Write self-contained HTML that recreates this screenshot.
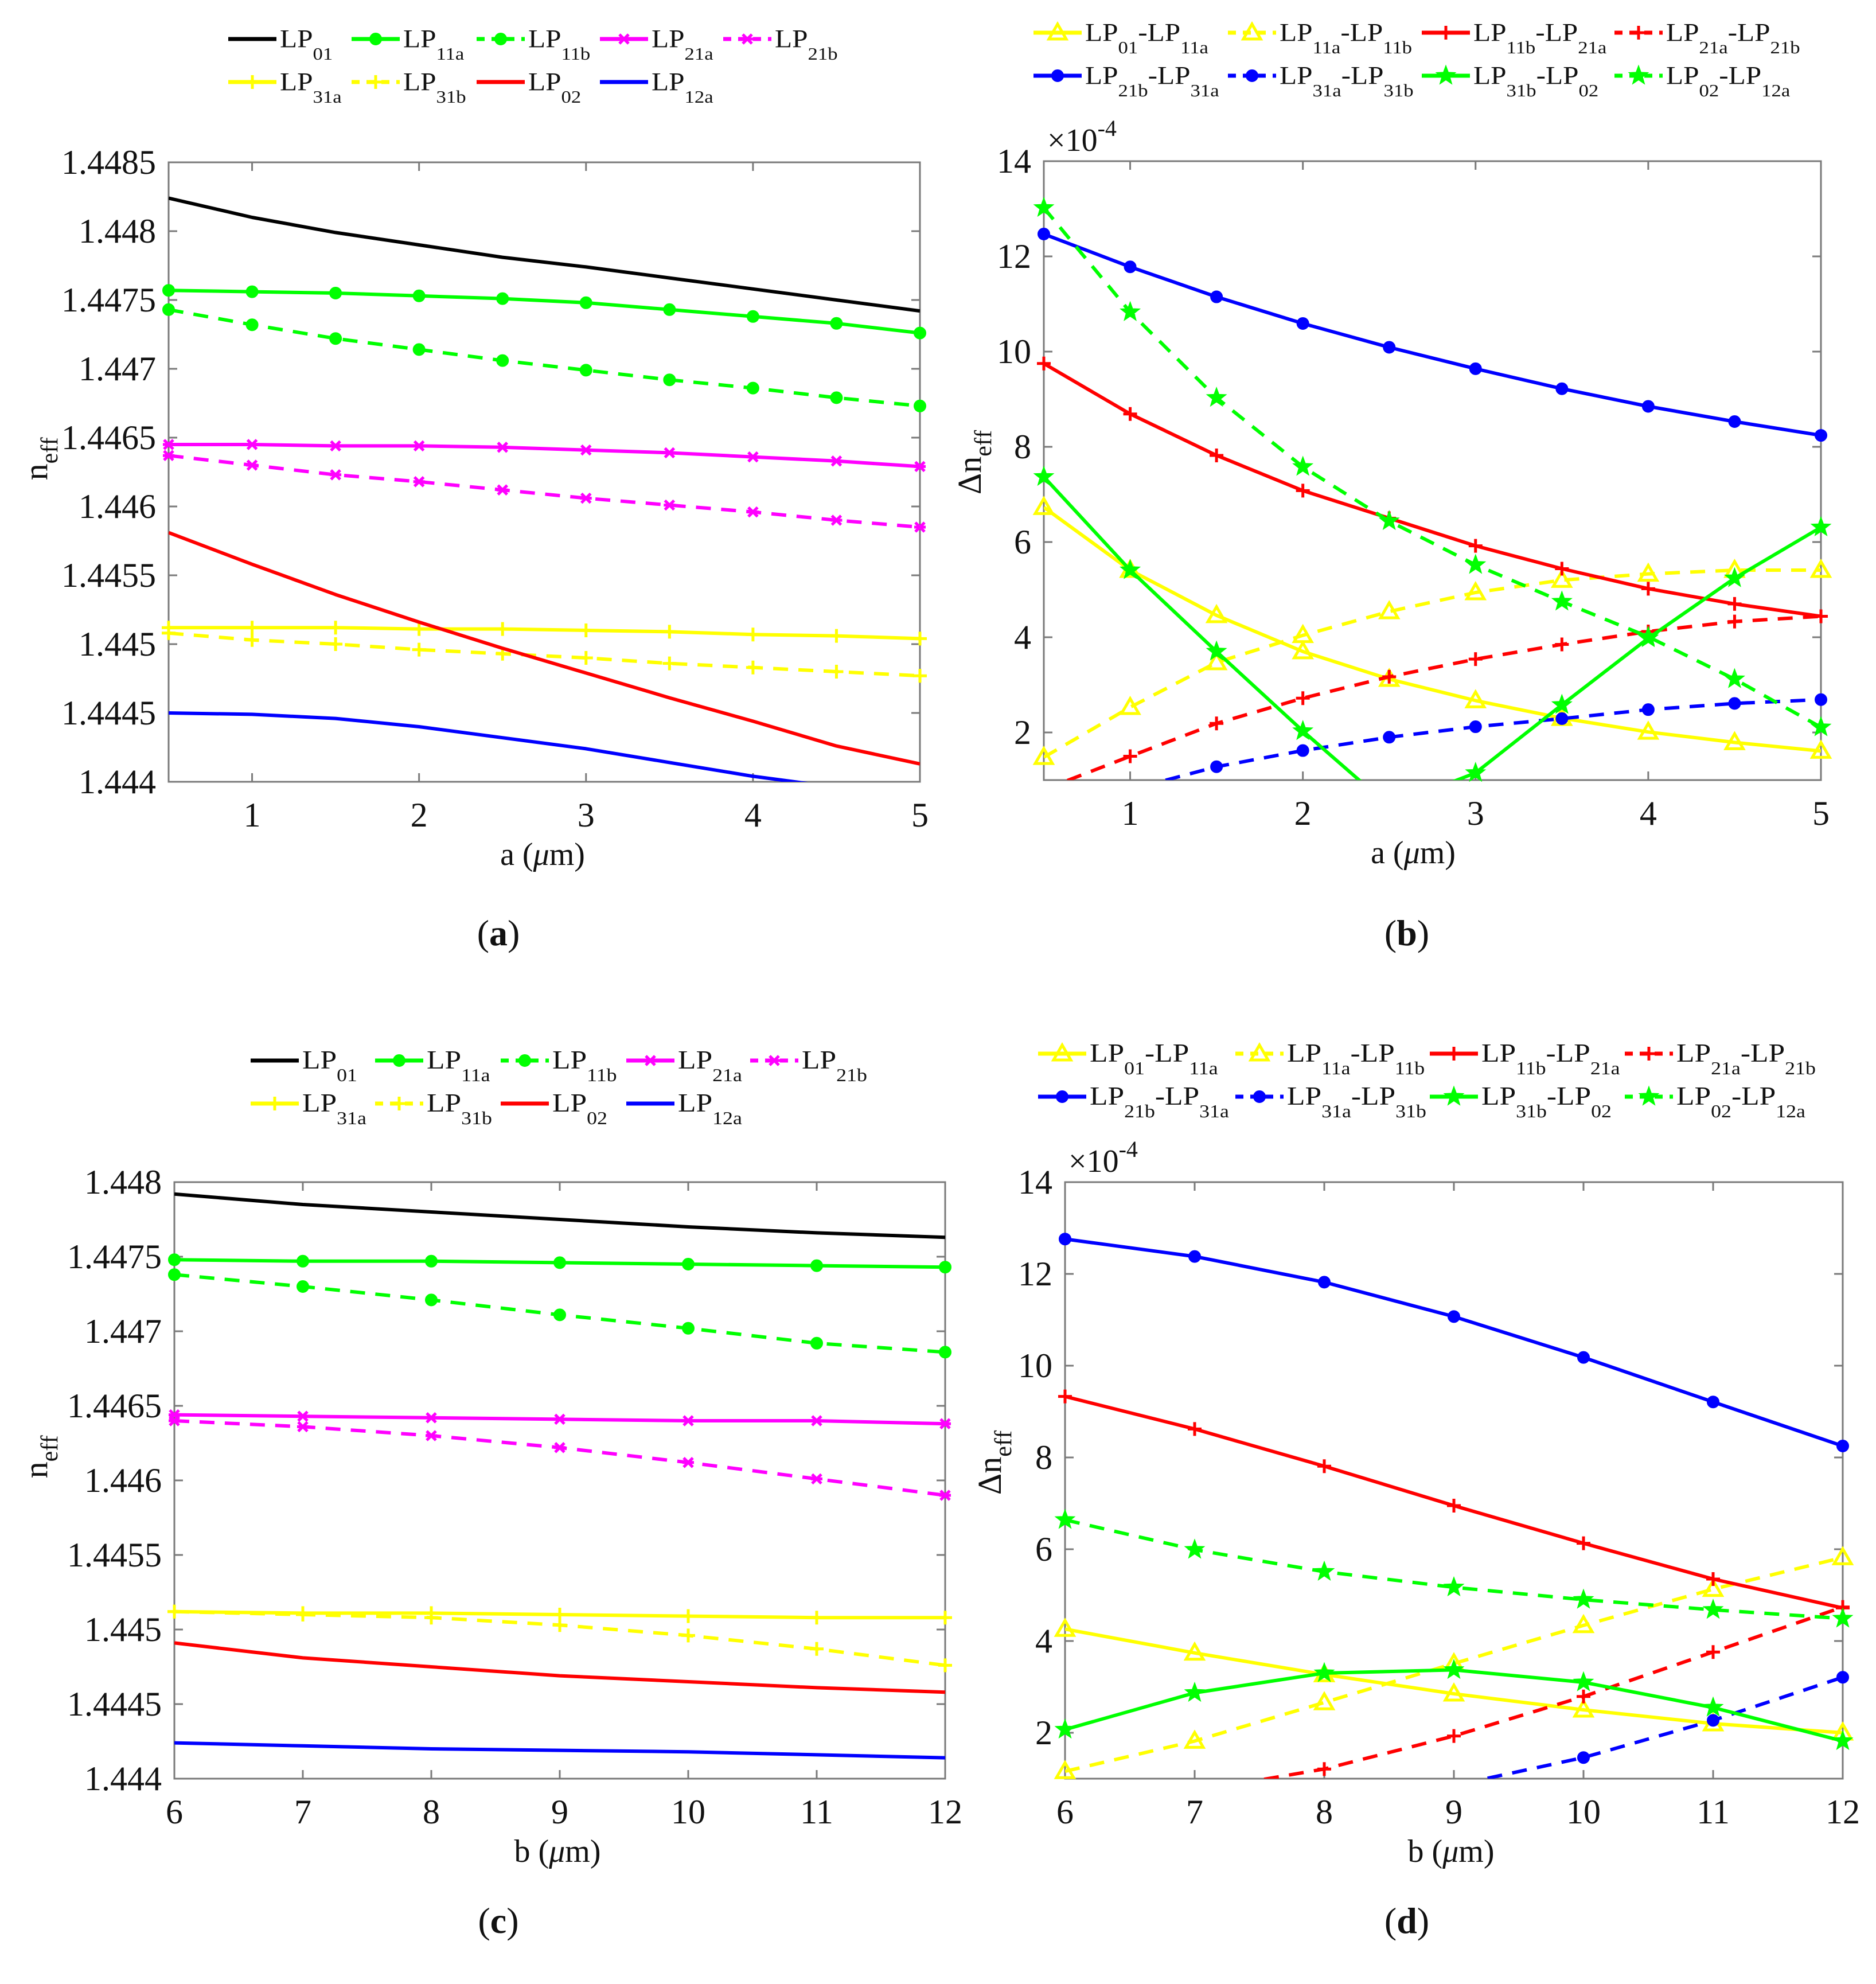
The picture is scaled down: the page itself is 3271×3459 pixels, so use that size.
<!DOCTYPE html>
<html>
<head>
<meta charset="utf-8">
<style>
html,body{margin:0;padding:0;background:#fff;}
svg, svg text{font-family:"Liberation Serif","Times New Roman",serif;}
</style>
</head>
<body>
<svg id="fig" width="3271" height="3454" viewBox="0 0 3271 3454" xmlns="http://www.w3.org/2000/svg" font-family="Liberation Serif, serif">
<rect x="0" y="0" width="3271" height="3454" fill="#fff"/>
</svg>
<script>
// ---------- DATA ----------
const xA = [0.5,1,1.5,2,2.5,3,3.5,4,4.5,5];
const xB = [6,7,8,9,10,11,12];
const xTicksA = [1,2,3,4,5];
const xTicksB = [6,7,8,9,10,11,12];
const nTicks = [1.444,1.4445,1.445,1.4455,1.446,1.4465,1.447,1.4475,1.448,1.4485];
const nTickLabels = ["1.444","1.4445","1.445","1.4455","1.446","1.4465","1.447","1.4475","1.448","1.4485"];
const nTicksC = [1.444,1.4445,1.445,1.4455,1.446,1.4465,1.447,1.4475,1.448];
const nTickLabelsC = ["1.444","1.4445","1.445","1.4455","1.446","1.4465","1.447","1.4475","1.448"];
const dTicks = [2,4,6,8,10,12,14];
const dTickLabels = ["2","4","6","8","10","12","14"];

// panel (a): n_eff vs a
const a_LP01  = [1.44824,1.44810,1.44799,1.44790,1.44781,1.44774,1.44766,1.44758,1.44750,1.44742];
const a_LP11a = [1.44757,1.44756,1.44755,1.44753,1.44751,1.44748,1.44743,1.44738,1.44733,1.44726];
const a_LP11b = [1.44743,1.44732,1.44722,1.44714,1.44706,1.44699,1.44692,1.44686,1.44679,1.44673];
const a_LP21a = [1.44645,1.44645,1.44644,1.44644,1.44643,1.44641,1.44639,1.44636,1.44633,1.44629];
const a_LP21b = [1.44637,1.44630,1.44623,1.44618,1.44612,1.44606,1.44601,1.44596,1.44590,1.44585];
const a_LP31a = [1.44512,1.44512,1.44512,1.44511,1.44511,1.44510,1.44509,1.44507,1.44506,1.44504];
const a_LP31b = [1.44508,1.44503,1.44500,1.44496,1.44493,1.44490,1.44486,1.44483,1.44480,1.44477];
const a_LP02  = [1.44581,1.44558,1.44536,1.44516,1.44497,1.44479,1.44461,1.44444,1.44426,1.44413];
const a_LP12a = [1.44450,1.44449,1.44446,1.44440,1.44432,1.44424,1.44414,1.44404,1.44396,1.44385];

// panel (b): delta n_eff (x1e-4) vs a
const b_01_11a  = [6.73,5.41,4.46,3.70,3.12,2.67,2.30,2.01,1.79,1.61];
const b_11a_11b = [1.48,2.53,3.47,4.04,4.54,4.94,5.20,5.33,5.41,5.41];
const b_11b_21a = [9.75,8.69,7.82,7.08,6.50,5.92,5.44,5.02,4.70,4.44];
const b_21a_21b = [0.80,1.50,2.19,2.72,3.17,3.54,3.85,4.12,4.33,4.44];
const b_21b_31a = [12.47,11.78,11.15,10.59,10.09,9.64,9.22,8.85,8.53,8.24];
const b_31a_31b = [0.30,0.80,1.28,1.62,1.90,2.12,2.29,2.48,2.61,2.69];
const b_31b_02  = [7.37,5.41,3.70,2.03,0.45,1.15,2.58,3.98,5.24,6.31];
const b_02_12a  = [13.02,10.83,9.03,7.58,6.44,5.52,4.75,4.01,3.12,2.11];

// panel (c): n_eff vs b
const c_LP01  = [1.44792,1.44785,1.44780,1.44775,1.44770,1.44766,1.44763];
const c_LP11a = [1.44748,1.44747,1.44747,1.44746,1.44745,1.44744,1.44743];
const c_LP11b = [1.44738,1.44730,1.44721,1.44711,1.44702,1.44692,1.44686];
const c_LP21a = [1.44644,1.44643,1.44642,1.44641,1.44640,1.44640,1.44638];
const c_LP21b = [1.44640,1.44636,1.44630,1.44622,1.44612,1.44601,1.44590];
const c_LP31a = [1.44512,1.44511,1.44511,1.44510,1.44509,1.44508,1.44508];
const c_LP31b = [1.44512,1.44510,1.44508,1.44503,1.44496,1.44487,1.44476];
const c_LP02  = [1.44491,1.44481,1.44475,1.44469,1.44465,1.44461,1.44458];
const c_LP12a = [1.44424,1.44422,1.44420,1.44419,1.44418,1.44416,1.44414];

// panel (d): delta n_eff (x1e-4) vs b
const d_01_11a  = [4.26,3.74,3.27,2.85,2.50,2.20,2.00];
const d_11a_11b = [1.16,1.82,2.66,3.51,4.34,5.13,5.82];
const d_11b_21a = [9.33,8.62,7.81,6.95,6.13,5.35,4.72];
const d_21a_21b = [0.25,0.73,1.21,1.93,2.79,3.76,4.74];
const d_21b_31a = [12.76,12.38,11.82,11.07,10.18,9.21,8.25];
const d_31a_31b = [-0.60,-0.20,0.30,0.85,1.46,2.27,3.21];
const d_31b_02  = [2.07,2.87,3.30,3.37,3.10,2.55,1.82];
const d_02_12a  = [6.64,5.99,5.51,5.17,4.90,4.68,4.49];

// ---------- DRAWING ----------
const NS = "http://www.w3.org/2000/svg";
const FONT = "Liberation Serif, Times New Roman, serif";
const svg = document.getElementById('fig');
function mk(tag, attrs, parent){
  const e = document.createElementNS(NS, tag);
  for (const k in attrs) e.setAttribute(k, attrs[k]);
  if (tag==='text') e.setAttribute('font-family', FONT);
  (parent||svg).appendChild(e);
  return e;
}
const YEL="#ffff00", GRN="#00ff00", MAG="#ff00ff", RED="#ff0000", BLU="#0000ff", BLK="#000000";
const DASH="26,18";

function marker(g, type, x, y, color){
  let m;
  if (type==='circle'){
    m = mk('circle',{cx:x,cy:y,r:10,fill:color,stroke:color,'stroke-width':2},g);
  } else if (type==='plus'){
    m = mk('path',{d:`M${x-12},${y}H${x+12}M${x},${y-12}V${y+12}`,stroke:color,'stroke-width':5,fill:'none'},g);
  } else if (type==='x'){
    m = mk('path',{d:`M${x-8},${y-8}L${x+8},${y+8}M${x-8},${y+8}L${x+8},${y-8}M${x-10},${y}H${x+10}`,stroke:color,'stroke-width':5,fill:'none'},g);
  } else if (type==='tri'){
    m = mk('path',{d:`M${x},${y-15}L${x+15},${y+11}L${x-15},${y+11}Z`,stroke:color,'stroke-width':5,fill:'none'},g);
  } else if (type==='star'){
    let p=''; const R=18, r=7.5;
    for (let i=0;i<10;i++){
      const ang=-Math.PI/2+i*Math.PI/5; const rr=(i%2===0)?R:r;
      p += (i?'L':'M')+(x+rr*Math.cos(ang)).toFixed(1)+','+(y+rr*Math.sin(ang)).toFixed(1);
    }
    m = mk('path',{d:p+'Z',fill:color,stroke:color,'stroke-width':1},g);
  }
  return m;
}

function legendText(g, x, y, parts, fs, sub){
  const t = mk('text',{transform:`translate(${x},${y}) scale(1.12,1)`,'font-size':fs,fill:'#111'},g);
  parts.forEach((p,i)=>{
    const a = mk('tspan',{dy: i===0?0:-sub},t); a.textContent = (i===0?'':'-')+p[0];
    const b = mk('tspan',{dy: sub,'font-size':Math.round(fs*0.7)},t); b.textContent = p[1];
  });
  return t;
}

function drawPanel(cfg){
  const g = mk('g',{});
  
  
  const X = v => cfg.L + (v-cfg.xmin)/(cfg.xmax-cfg.xmin)*(cfg.R-cfg.L);
  const Y = v => cfg.B - (v-cfg.ymin)/(cfg.ymax-cfg.ymin)*(cfg.B-cfg.T);
  const cid = 'clip-'+cfg.name;
  const defs = mk('defs',{},g);
  const cp = mk('clipPath',{id:cid},defs);
  mk('rect',{x:cfg.L,y:cfg.T,width:cfg.R-cfg.L,height:cfg.B-cfg.T},cp);
  const box = mk('rect',{x:cfg.L,y:cfg.T,width:cfg.R-cfg.L,height:cfg.B-cfg.T,fill:'none',stroke:'#7a7a7a','stroke-width':3},g);
  
  
  cfg.xticks.forEach(v=>{
    const px = X(v);
    mk('path',{d:`M${px},${cfg.B}V${cfg.B-15}M${px},${cfg.T}V${cfg.T+15}`,stroke:'#7a7a7a','stroke-width':3},g);
    const t = mk('text',{x:px,y:cfg.B+78,'font-size':60,'text-anchor':'middle',fill:'#111'},g);
    t.textContent = String(v);
    
    
  });
  cfg.yticks.forEach((v,i)=>{
    const py = Y(v);
    mk('path',{d:`M${cfg.L},${py}H${cfg.L+15}M${cfg.R},${py}H${cfg.R-15}`,stroke:'#7a7a7a','stroke-width':3},g);
    const t = mk('text',{x:cfg.L-22,y:py+20,'font-size':60,'text-anchor':'end',fill:'#111'},g);
    t.textContent = cfg.ylabels[i];
    
    
  });
  cfg.series.forEach(s=>{
    const sg = mk('g',{},g);
    
    
    const pts = cfg.x.map((xv,i)=>[X(xv),Y(s.data[i])]);
    const attrs = {d:'M'+pts.map(p=>p[0].toFixed(1)+','+p[1].toFixed(1)).join('L'),fill:'none',stroke:s.color,'stroke-width':6,'stroke-linejoin':'round','clip-path':`url(#${cid})`};
    if (s.dash) attrs['stroke-dasharray']=DASH;
    const line = mk('path',attrs,sg);
    
    
    if (s.marker){
      cfg.x.forEach((xv,i)=>{
        const v = s.data[i];
        if (v < cfg.ymin || v > cfg.ymax) return;
        const m = marker(sg, s.marker, X(xv), Y(v), s.color);
        
        
      });
    }
  });
  const xl = mk('text',{x:cfg.xlx,y:cfg.B+145,'font-size':56,'text-anchor':'middle',fill:'#111'},g);
  
  
  const xl1 = mk('tspan',{},xl); xl1.textContent = cfg.xvar+' (';
  const xl2 = mk('tspan',{'font-style':'italic'},xl); xl2.textContent = 'μ';
  const xl3 = mk('tspan',{},xl); xl3.textContent = 'm)';
  const yl = mk('text',{transform:`translate(${cfg.ylx},${cfg.yly}) rotate(-90)`,'font-size':58,'text-anchor':'middle',fill:'#111'},g);
  
  
  const y1 = mk('tspan',{},yl); y1.textContent = cfg.delta ? 'Δn' : 'n';
  const y2 = mk('tspan',{dy:18,'font-size':42},yl); y2.textContent = 'eff';
  if (cfg.delta){
    const ex = mk('text',{x:cfg.L+6,y:cfg.T-18,'font-size':56,fill:'#111'},g);
    
    
    const e1 = mk('tspan',{},ex); e1.textContent='×10';
    const e2 = mk('tspan',{dy:-26,'font-size':40},ex); e2.textContent='-4';
  }
  const pl = mk('text',{x:cfg.plx,y:cfg.ply,'font-size':64,'text-anchor':'middle',fill:'#111'},g);
  
  
  const p1 = mk('tspan',{},pl); p1.textContent='(';
  const p2 = mk('tspan',{'font-weight':'bold'},pl); p2.textContent=cfg.letter;
  const p3 = mk('tspan',{},pl); p3.textContent=')';
  const lg = mk('g',{},g);
  
  
  cfg.series.forEach((s,i)=>{
    const row = Math.floor(i/cfg.perRow), col = i%cfg.perRow;
    const lx = cfg.legX[col], ly = cfg.legY[row];
    const eg = mk('g',{},lg);
    
    
    const la = {d:`M${lx},${ly}H${lx+cfg.legLen}`,stroke:s.color,'stroke-width':7};
    if (s.dash) la['stroke-dasharray']='14,12';
    mk('path',la,eg);
    if (s.marker) marker(eg, s.marker, lx+cfg.legLen/2, ly, s.color);
    legendText(eg, lx+cfg.legLen+6, ly+14, s.label, cfg.legFs, 22);
  });
}

const nSeriesA = (d)=>[
  {id:'lp01',label:[['LP','01']],data:d[0],color:BLK},
  {id:'lp11a',label:[['LP','11a']],data:d[1],color:GRN,marker:'circle'},
  {id:'lp11b',label:[['LP','11b']],data:d[2],color:GRN,marker:'circle',dash:true},
  {id:'lp21a',label:[['LP','21a']],data:d[3],color:MAG,marker:'x'},
  {id:'lp21b',label:[['LP','21b']],data:d[4],color:MAG,marker:'x',dash:true},
  {id:'lp31a',label:[['LP','31a']],data:d[5],color:YEL,marker:'plus'},
  {id:'lp31b',label:[['LP','31b']],data:d[6],color:YEL,marker:'plus',dash:true},
  {id:'lp02',label:[['LP','02']],data:d[7],color:RED},
  {id:'lp12a',label:[['LP','12a']],data:d[8],color:BLU}
];
const dSeries = (d)=>[
  {id:'lp01-lp11a',label:[['LP','01'],['LP','11a']],data:d[0],color:YEL,marker:'tri'},
  {id:'lp11a-lp11b',label:[['LP','11a'],['LP','11b']],data:d[1],color:YEL,marker:'tri',dash:true},
  {id:'lp11b-lp21a',label:[['LP','11b'],['LP','21a']],data:d[2],color:RED,marker:'plus'},
  {id:'lp21a-lp21b',label:[['LP','21a'],['LP','21b']],data:d[3],color:RED,marker:'plus',dash:true},
  {id:'lp21b-lp31a',label:[['LP','21b'],['LP','31a']],data:d[4],color:BLU,marker:'circle'},
  {id:'lp31a-lp31b',label:[['LP','31a'],['LP','31b']],data:d[5],color:BLU,marker:'circle',dash:true},
  {id:'lp31b-lp02',label:[['LP','31b'],['LP','02']],data:d[6],color:GRN,marker:'star'},
  {id:'lp02-lp12a',label:[['LP','02'],['LP','12a']],data:d[7],color:GRN,marker:'star',dash:true}
];

drawPanel({name:'chart-a',letter:'a',L:294,R:1604,T:283,B:1363,xmin:0.5,xmax:5,ymin:1.444,ymax:1.4485,
  x:xA,xticks:xTicksA,yticks:nTicks,ylabels:nTickLabels,xvar:'a',xlx:946,ylx:82,yly:800,plx:869,ply:1648,
  series:nSeriesA([a_LP01,a_LP11a,a_LP11b,a_LP21a,a_LP21b,a_LP31a,a_LP31b,a_LP02,a_LP12a]),
  perRow:5,legX:[398,613,831,1046,1261],legY:[68,143],legLen:84,legFs:44});
drawPanel({name:'chart-b',letter:'b',delta:true,L:1820,R:3175,T:281,B:1360,xmin:0.5,xmax:5,ymin:1,ymax:14,
  x:xA,xticks:xTicksA,yticks:dTicks,ylabels:dTickLabels,xvar:'a',xlx:2464,ylx:1710,yly:806,plx:2453,ply:1648,
  series:dSeries([b_01_11a,b_11a_11b,b_11b_21a,b_21a_21b,b_21b_31a,b_31a_31b,b_31b_02,b_02_12a]),
  perRow:4,legX:[1802,2141,2479,2815],legY:[57,132],legLen:84,legFs:44});
drawPanel({name:'chart-c',letter:'c',L:304,R:1648,T:2061,B:3101,xmin:6,xmax:12,ymin:1.444,ymax:1.448,
  x:xB,xticks:xTicksB,yticks:nTicksC,ylabels:nTickLabelsC,xvar:'b',xlx:972,ylx:82,yly:2540,plx:869,ply:3370,
  series:nSeriesA([c_LP01,c_LP11a,c_LP11b,c_LP21a,c_LP21b,c_LP31a,c_LP31b,c_LP02,c_LP12a]),
  perRow:5,legX:[437,654,873,1092,1308],legY:[1849,1924],legLen:84,legFs:46});
drawPanel({name:'chart-d',letter:'d',delta:true,L:1857,R:3213,T:2061,B:3101,xmin:6,xmax:12,ymin:1,ymax:14,
  x:xB,xticks:xTicksB,yticks:dTicks,ylabels:dTickLabels,xvar:'b',xlx:2530,ylx:1745,yly:2550,plx:2453,ply:3370,
  series:dSeries([d_01_11a,d_11a_11b,d_11b_21a,d_21a_21b,d_21b_31a,d_31a_31b,d_31b_02,d_02_12a]),
  perRow:4,legX:[1810,2154,2493,2833],legY:[1837,1912],legLen:84,legFs:46});
</script>
</body>
</html>
